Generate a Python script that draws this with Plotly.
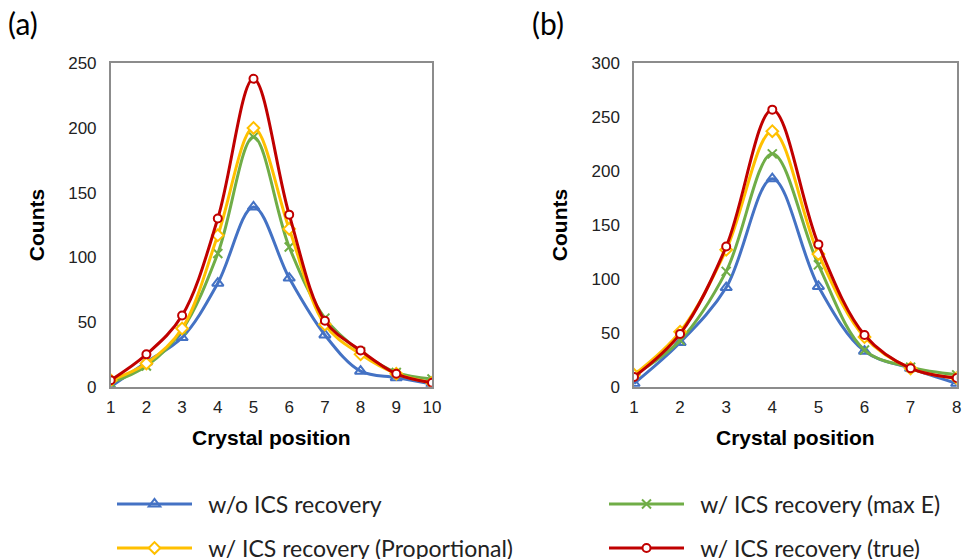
import plotly.graph_objects as go

# ---- data ----
pos_a = [1, 2, 3, 4, 5, 6, 7, 8, 9, 10]
a_wo = [0, 19, 38, 80, 139, 84, 40, 12, 7, 2]
a_maxe = [3, 16, 44, 103, 193, 108, 53, 27, 11, 6]
a_prop = [5, 18, 45, 117, 200, 122, 48, 25, 10, 3]
a_true = [5, 25, 55, 130, 238, 133, 51, 28, 10, 3]

pos_b = [1, 2, 3, 4, 5, 6, 7, 8]
b_wo = [3, 41, 92, 193, 93, 33, 17, 3]
b_maxe = [11, 43, 107, 216, 113, 34, 18, 11]
b_prop = [11, 51, 127, 237, 123, 46, 17, 8]
b_true = [9, 49, 130, 257, 132, 48, 17, 8]

names = ["w/o ICS recovery", "w/ ICS recovery (max E)",
         "w/ ICS recovery (Proportional)", "w/ ICS recovery (true)"]

# ---- styles ----
colors = ["#4472C4", "#70AD47", "#FFC000", "#C00000"]
symbols = ["triangle-up-open", "x-thin-open", "diamond", "circle"]
mfill = ["#4472C4", "#70AD47", "white", "white"]
msize = [10, 9, 9, 8]
legends = ["legend", "legend2", "legend3", "legend4"]

fig = go.Figure()

def add_series(xs, series, xa, ya, show):
    for i, ys in enumerate(series):
        fig.add_trace(go.Scatter(
            x=xs, y=ys, mode="lines+markers", name="\u00a0\u00a0" + names[i],
            line=dict(color=colors[i], width=3, shape="spline", smoothing=1),
            marker=dict(symbol=symbols[i], size=msize[i], color=mfill[i],
                        line=dict(color=colors[i], width=2)),
            xaxis=xa, yaxis=ya, showlegend=show, legend=legends[i],
        ))

add_series(pos_a, [a_wo, a_maxe, a_prop, a_true], "x", "y", True)
add_series(pos_b, [b_wo, b_maxe, b_prop, b_true], "x2", "y2", False)

# figure is a little taller than the 559px window so the bottom legend row fits
W, H = 962, 590
tickfont = dict(family="Liberation Sans, Arial", size=17, color="#222")
titlefont = dict(family="Liberation Sans, Arial", size=21, color="black")

def xax(dom, rng, tv):
    return dict(domain=dom, range=rng, tickvals=tv, showgrid=False, zeroline=False,
                showline=True, linecolor="#8c8c8c", linewidth=1.5, mirror=True,
                ticks="", tickfont=tickfont, automargin=False, ticklabelstandoff=4,
                title=dict(text="<b>Crystal position</b>", font=titlefont, standoff=14))

def yax(dom, rng, dt, anchor):
    return dict(domain=dom, range=rng, dtick=dt, showgrid=False, zeroline=False,
                showline=True, linecolor="#8c8c8c", linewidth=1.5, mirror=True,
                ticks="", tickfont=tickfont, anchor=anchor, automargin=False,
                ticklabelstandoff=9,
                title=dict(text="<b>Counts</b>", font=titlefont, standoff=18))

legfont = dict(family="Lato", size=23, color="#222")

def leg(xpx, ypx):
    return dict(orientation="h", x=xpx / W, y=1 - ypx / H, xanchor="left", yanchor="middle",
                itemwidth=75, font=legfont, bgcolor="rgba(0,0,0,0)")

ydom = [1 - 386.7 / H, 1 - 63.3 / H]
fig.update_layout(
    width=W, height=H,
    margin=dict(l=0, r=0, t=0, b=0),
    plot_bgcolor="white", paper_bgcolor="white",
    xaxis=xax([110.7 / W, 432 / W], [1, 10], pos_a) | dict(anchor="y"),
    yaxis=yax(ydom, [0, 250], 50, "x"),
    xaxis2=xax([634 / W, 956.7 / W], [1, 8], pos_b) | dict(anchor="y2"),
    yaxis2=yax(ydom, [0, 300], 50, "x2"),
    legend=leg(112, 504),
    legend2=leg(604, 504),
    legend3=leg(112, 548),
    legend4=leg(604, 548),
    annotations=[
        dict(text="(a)", x=6 / W, y=1 - 23 / H, xref="paper", yref="paper",
             xanchor="left", yanchor="middle", showarrow=False,
             font=dict(family="Lato", size=30, color="black")),
        dict(text="(b)", x=530 / W, y=1 - 23 / H, xref="paper", yref="paper",
             xanchor="left", yanchor="middle", showarrow=False,
             font=dict(family="Lato", size=30, color="black")),
    ],
)

fig.write_html("out.html", config={"displayModeBar": False},
               post_script="document.body.style.margin='0';document.body.style.overflow='hidden';")
